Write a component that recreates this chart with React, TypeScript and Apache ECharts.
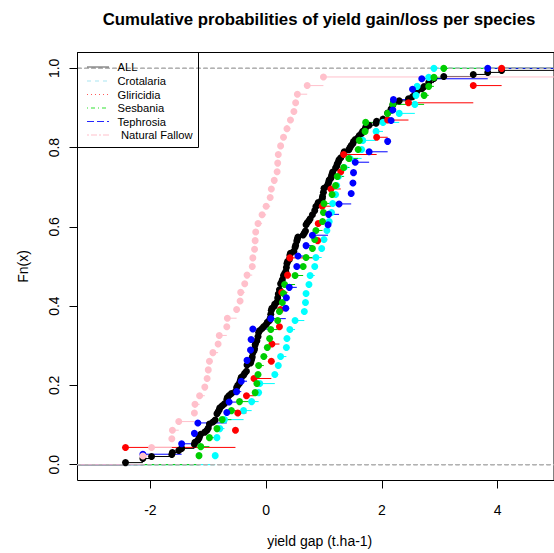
import React, { useEffect, useRef } from "react";
import * as echarts from "echarts";

const TITLE = "Cumulative probabilities of yield gain/loss per species";
const X_TITLE = "yield gap (t.ha-1)";
const Y_TITLE = "Fn(x)";
const X_TICKS = [-2, 0, 2, 4];
const Y_TICKS = [0, 0.2, 0.4, 0.6, 0.8, 1.0];
const X_MIN = -3.26;
const X_MAX = 4.975;
const Y_MIN = -0.04;
const Y_MAX = 1.04;

// yield gap values (t/ha) per species
const crotalaria = [
  -0.88, -0.85, -0.85, -0.8, -0.72, -0.39, -0.25, -0.13, -0.11, 0.15, 0.21, 0.25, 0.35, 0.36, 0.41,
  0.5, 0.66, 0.68, 0.69, 0.74, 0.76, 0.84, 0.86, 0.96, 1.0, 1.05, 1.09, 1.13, 1.15, 1.2, 1.22, 1.25,
  1.35, 1.45, 1.65, 1.67, 1.9, 2.02, 2.3, 2.57, 2.59, 2.61, 2.81, 2.9,
];
const gliricidia = [
  -2.43, -0.53, -0.49, -0.34, -0.21, 0.09, 0.1, 0.23, 0.25, 0.27, 0.37, 0.41, 0.89, 0.9, 0.97, 1.12,
  1.29, 1.34, 1.91, 2.1, 2.46, 3.58, 4.07,
];
const sesbania = [
  -1.16, -1.13, -0.98, -0.85, -0.76, -0.6, -0.46, -0.19, -0.16, -0.14, -0.13, -0.04, 0.02, 0.06, 0.08,
  0.2, 0.23, 0.28, 0.3, 0.32, 0.5, 0.64, 0.69, 0.8, 0.84, 0.86, 0.975, 0.99, 1.0, 1.14, 1.2, 1.23,
  1.34, 1.43, 1.59, 1.61, 1.71, 1.72, 2.1, 2.19, 2.73, 2.81, 2.9, 3.07,
];
const tephrosia = [
  -2.13, -1.46, -1.24, -1.18, -0.68, -0.64, -0.51, -0.43, -0.33, -0.33, -0.27, -0.26, -0.23, 0.08,
  0.34, 0.35, 0.4, 0.53, 0.53, 0.55, 0.69, 0.8, 1.07, 1.08, 1.26, 1.47, 1.5, 1.51, 1.54, 1.78, 2.1,
  2.16, 2.16, 2.19, 2.2, 2.53, 2.69, 3.83,
];
const naturalFallow = [
  -2.13, -1.98, -1.63, -1.62, -1.51, -1.24, -1.23, -1.15, -1.06, -1.02, -1.0, -0.98, -0.92, -0.83,
  -0.81, -0.68, -0.67, -0.51, -0.45, -0.44, -0.37, -0.33, -0.24, -0.23, -0.2, -0.19, -0.18, -0.14,
  -0.07, 0.0, 0.07, 0.09, 0.14, 0.19, 0.2, 0.21, 0.25, 0.3, 0.36, 0.42, 0.48, 0.51, 0.54, 0.71, 0.99,
  5.6,
];

const SERIES_NAMES = ["ALL", "Crotalaria", "Gliricidia", "Sesbania", "Tephrosia", "Natural Fallow"];
const SERIES_COLORS = ["#000000", "#00FFFF", "#FF0000", "#00CD00", "#0000FF", "#FFC0CB"];
const LEGEND_COLORS = ["#555555", "#A8E4F0", "#FF5A5A", "#30E030", "#2424FF", "#FFC0CB"];
const LEGEND_DASH: number[][] = [[22, 0], [4, 4], [1, 3], [1, 3, 4, 3], [7, 3], [2, 2, 6, 2]];

const FONT = '"Liberation Sans", Arial, sans-serif';

function ecdf(values: number[]): number[][] {
  const s = [...values].sort((a, b) => a - b);
  const n = s.length;
  const pts: number[][] = [];
  for (let i = 0; i < n; i++) {
    if (i < n - 1 && s[i + 1] === s[i]) continue;
    pts.push([s[i], (i + 1) / n]);
  }
  return pts;
}

function clampX(v: number) {
  return Math.max(X_MIN, Math.min(X_MAX, v));
}

function steps(pts: number[][]): number[][] {
  const segs: number[][] = [];
  segs.push([X_MIN, clampX(pts[0][0]), 0]);
  for (let j = 0; j < pts.length; j++) {
    const next = j < pts.length - 1 ? pts[j + 1][0] : X_MAX;
    const a = clampX(pts[j][0]);
    const b = clampX(next);
    if (b > a) segs.push([a, b, pts[j][1]]);
  }
  return segs;
}

function segSeries(data: number[][], color: string, dash?: number[]) {
  return {
    type: "custom",
    silent: true,
    encode: { x: [0, 1], y: 2 },
    data,
    renderItem: (params: any, api: any) => {
      const p1 = api.coord([api.value(0), api.value(2)]);
      const p2 = api.coord([api.value(1), api.value(2)]);
      return {
        type: "line",
        shape: { x1: p1[0], y1: p1[1], x2: p2[0], y2: p2[1] },
        style: { stroke: color, lineWidth: 1, lineDash: dash || null, fill: null },
      };
    },
  };
}

// legend key drawn as small filled dashes (pattern on/off lengths)
function dashRects(x0: number, x1: number, y: number, pattern: number[], color: string) {
  const out: any[] = [];
  let x = x0;
  let k = 0;
  while (x < x1) {
    const len = pattern[k % pattern.length];
    if (k % 2 === 0 && len > 0) {
      out.push({
        type: "rect",
        z: 200,
        silent: true,
        shape: { x, y: y - 0.5, width: Math.min(len, x1 - x), height: 1 },
        style: { fill: color },
      });
    }
    x += len;
    k++;
    if (pattern[1] === 0 && k > 0) break;
  }
  return out;
}

export default function App() {
  const ref = useRef<HTMLDivElement>(null);

  useEffect(() => {
    document.body.style.margin = "0";
    if (!ref.current) return;
    const chart = echarts.init(ref.current, undefined, { renderer: "svg" });

    const speciesData = [crotalaria, gliricidia, sesbania, tephrosia, naturalFallow];
    const allData = ([] as number[]).concat(...speciesData);
    const datasets = [allData, ...speciesData];

    const series: any[] = [];
    datasets.forEach((vals, i) => {
      const pts = ecdf(vals);
      const color = SERIES_COLORS[i];
      series.push(segSeries(steps(pts), color));
      series.push({
        type: "scatter",
        name: SERIES_NAMES[i],
        data: pts,
        symbol: "circle",
        symbolSize: 7,
        clip: true,
        silent: true,
        itemStyle: { color, opacity: 1 },
      });
      series.push(
        segSeries(
          [
            [X_MIN, X_MAX, 0],
            [X_MIN, X_MAX, 1],
          ],
          "#B3B3B3",
          [4, 3]
        )
      );
    });

    const rowYs = [67, 81, 94.5, 108, 121.5, 135];
    const legendEls: any[] = [
      {
        type: "rect",
        z: 200,
        shape: { x: 77.5, y: 52.5, width: 121, height: 95 },
        style: { fill: "none", stroke: "#000", lineWidth: 1 },
        silent: true,
      },
    ];
    SERIES_NAMES.forEach((name, i) => {
      legendEls.push(...dashRects(87, 109, rowYs[i], LEGEND_DASH[i], LEGEND_COLORS[i]));
      legendEls.push({
        type: "text",
        z: 200,
        x: i === 5 ? 121 : 117.5,
        y: rowYs[i],
        style: {
          text: name,
          fill: "#000",
          font: `11.2px ${FONT}`,
          textAlign: "left",
          textVerticalAlign: "middle",
        },
        silent: true,
      });
    });

    chart.setOption({
      animation: false,
      backgroundColor: "#ffffff",
      grid: {
        left: 77.5,
        top: 52.5,
        right: -8,
        bottom: 72.5,
        show: true,
        borderColor: "#000",
        borderWidth: 1,
        backgroundColor: "transparent",
      },
      xAxis: {
        type: "value",
        min: X_MIN,
        max: X_MAX,
        axisLine: { show: false, onZero: false },
        splitLine: { show: false },
        axisTick: { show: true, customValues: X_TICKS, length: 8, lineStyle: { color: "#000" } },
        axisLabel: {
          customValues: X_TICKS,
          margin: 22,
          fontSize: 14,
          fontFamily: FONT,
          color: "#000",
        },
      },
      yAxis: {
        type: "value",
        min: Y_MIN,
        max: Y_MAX,
        axisLine: { show: false, onZero: false },
        splitLine: { show: false },
        axisTick: { show: true, customValues: Y_TICKS, length: 8, lineStyle: { color: "#000" } },
        axisLabel: {
          customValues: Y_TICKS,
          rotate: 90,
          margin: 17,
          fontSize: 14,
          fontFamily: FONT,
          color: "#000",
          formatter: (v: number) => v.toFixed(1),
        },
      },
      graphic: [
        {
          type: "text",
          x: 319,
          y: 19.5,
          style: {
            text: TITLE,
            fill: "#000",
            font: `bold 16.8px ${FONT}`,
            textAlign: "center",
            textVerticalAlign: "middle",
          },
          silent: true,
        },
        {
          type: "text",
          x: 319.75,
          y: 540.5,
          style: {
            text: X_TITLE,
            fill: "#000",
            font: `14px ${FONT}`,
            textAlign: "center",
            textVerticalAlign: "middle",
          },
          silent: true,
        },
        {
          type: "text",
          x: 22.5,
          y: 266.5,
          rotation: Math.PI / 2,
          style: {
            text: Y_TITLE,
            fill: "#000",
            font: `14px ${FONT}`,
            textAlign: "center",
            textVerticalAlign: "middle",
          },
          silent: true,
        },
        ...legendEls,
      ],
      series,
    });

    return () => {
      chart.dispose();
    };
  }, []);

  return <div ref={ref} style={{ width: 554, height: 553 }} />;
}
